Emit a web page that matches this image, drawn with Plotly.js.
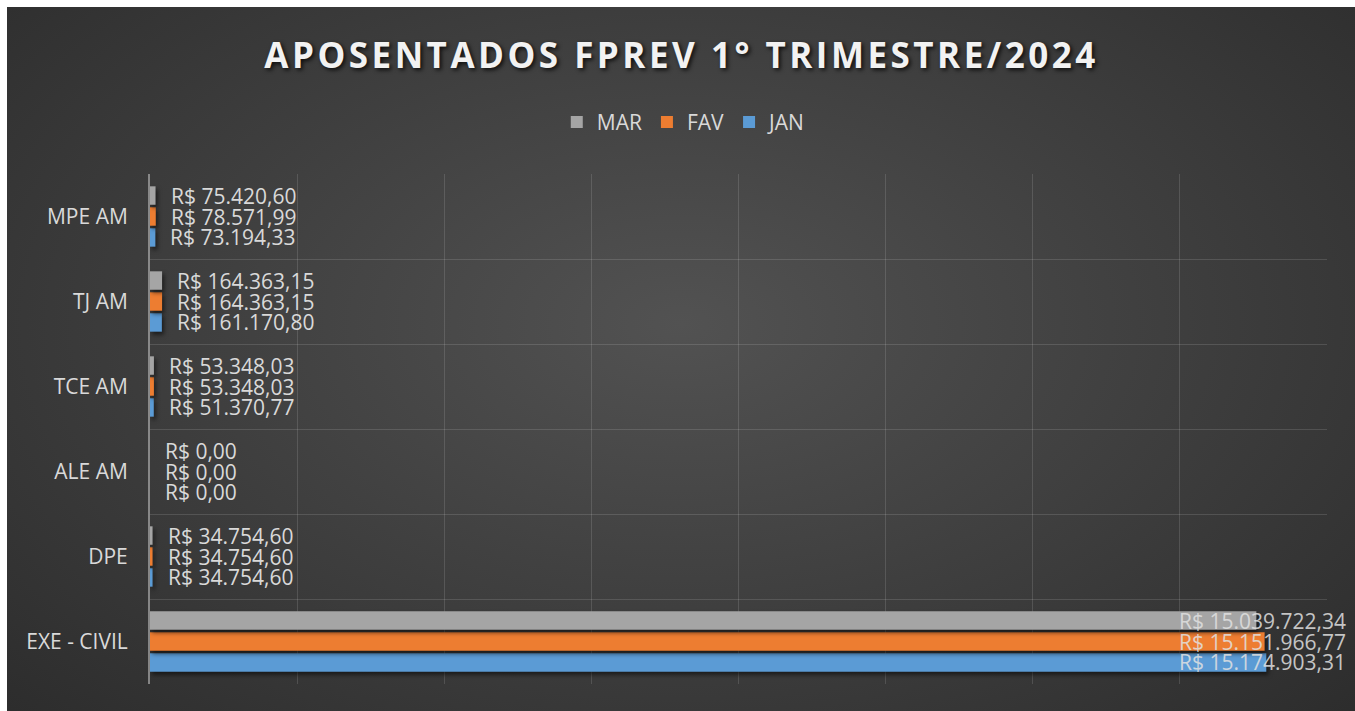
<!DOCTYPE html>
<html>
<head>
<meta charset="utf-8">
<script src="https://cdn.plot.ly/plotly-3.0.1.min.js"></script>
<style>
  html, body { margin: 0; padding: 0; background: #ffffff; }
  #wrap { position: relative; width: 1355px; height: 711px; overflow: hidden; }
  #bg { position: absolute; left: 7px; top: 7px; width: 1348px; height: 704px;
        background: radial-gradient(ellipse 75% 85% at 50% 45%, #525252 0%, #404040 45%, #2a2a2a 100%); }
  #chart { position: absolute; left: 0; top: 0; width: 1355px; height: 711px; }
  .gtitle { letter-spacing: 3.5px; }
  .trace.bars .point path { filter: drop-shadow(2px 3px 2px rgba(0,0,0,0.55)); }
</style>
</head>
<body>
<div id="wrap">
  <div id="bg"></div>
  <div id="chart"></div>
</div>
<script>
// ---- data ----
const categories = ["EXE - CIVIL", "DPE", "ALE AM", "TCE AM", "TJ AM", "MPE AM"];
const janValues = [15174903.31, 34754.60, 0, 51370.77, 161170.80, 73194.33];
const favValues = [15151966.77, 34754.60, 0, 53348.03, 164363.15, 78571.99];
const marValues = [15039722.34, 34754.60, 0, 53348.03, 164363.15, 75420.60];
const seriesNames = ["JAN", "FAV", "MAR"];
const seriesColors = ["#5b9bd5", "#ed7d31", "#a5a5a5"];
const xMax = 16000000;

const allValues = [janValues, favValues, marValues];
const FONT = "Open Sans, Noto Sans, sans-serif";

function fmtBRL(v) {
  const parts = v.toFixed(2).split(".");
  const intPart = parts[0].replace(/\B(?=(\d{3})+(?!\d))/g, ".");
  return "R$ " + intPart + "," + parts[1];
}

const traces = allValues.map((vals, s) => ({
  type: "bar",
  orientation: "h",
  name: seriesNames[s],
  y: categories,
  x: vals,
  marker: { color: seriesColors[s], line: { width: 0 } },
  hoverinfo: "x+y+name"
}));

const margin = { l: 150, r: 28, t: 174, b: 27 };
const plotH = 711 - margin.t - margin.b;
const bargap = 0.26;
const catH = plotH / categories.length;
const slot = catH * (1 - bargap) / allValues.length;

const annotations = [];
allValues.forEach((vals, s) => {
  const yshift = (s - (allValues.length - 1) / 2) * slot;
  vals.forEach((v, i) => {
    const big = v > xMax * 0.85;
    annotations.push(big ? {
      xref: "paper", yref: "y", x: 1, y: categories[i], xanchor: "right", yanchor: "middle",
      xshift: 21, yshift: yshift, text: fmtBRL(v), showarrow: false,
      font: { family: FONT, size: 21, color: "rgba(225,225,225,0.85)" }
    } : {
      xref: "x", yref: "y", x: v, y: categories[i], xanchor: "left", yanchor: "middle",
      xshift: 13, yshift: yshift, text: fmtBRL(v), showarrow: false,
      font: { family: FONT, size: 21, color: "#d9d9d9" }
    });
  });
});

const layout = {
  width: 1355, height: 711,
  paper_bgcolor: "rgba(0,0,0,0)",
  plot_bgcolor: "rgba(0,0,0,0)",
  margin: margin,
  title: {
    text: "<b>APOSENTADOS FPREV 1° TRIMESTRE/2024</b>",
    x: 0.503, xanchor: "center", y: 0.922, yanchor: "middle",
    font: { family: FONT, size: 35, color: "#f2f2f2",
            shadow: "2px 2px 4px rgba(0,0,0,0.8)" }
  },
  barmode: "group",
  bargap: bargap,
  bargroupgap: 0.12,
  showlegend: true,
  legend: {
    orientation: "h", x: 0.505, xanchor: "center", xref: "container",
    y: 0.828, yanchor: "middle", yref: "container",
    traceorder: "reversed",
    font: { family: FONT, size: 21, color: "#d9d9d9" },
    itemwidth: 30, itemsizing: "constant", bgcolor: "rgba(0,0,0,0)"
  },
  xaxis: {
    range: [0, xMax], dtick: 2000000, showticklabels: false,
    showgrid: true, gridcolor: "rgba(255,255,255,0.13)", gridwidth: 1,
    zeroline: false, showline: false, fixedrange: true
  },
  yaxis: {
    type: "category", categoryorder: "array", categoryarray: categories,
    range: [-0.5, categories.length - 0.5],
    tickson: "boundaries", ticks: "", showgrid: true,
    gridcolor: "rgba(255,255,255,0.13)", gridwidth: 1,
    showline: true, linecolor: "rgba(200,200,200,0.55)", linewidth: 2,
    ticklabelstandoff: 16,
    tickfont: { family: FONT, size: 21, color: "#d9d9d9" },
    zeroline: false, fixedrange: true
  },
  annotations: annotations
};

Plotly.newPlot("chart", traces, layout, { displayModeBar: false, staticPlot: true });
</script>
</body>
</html>
